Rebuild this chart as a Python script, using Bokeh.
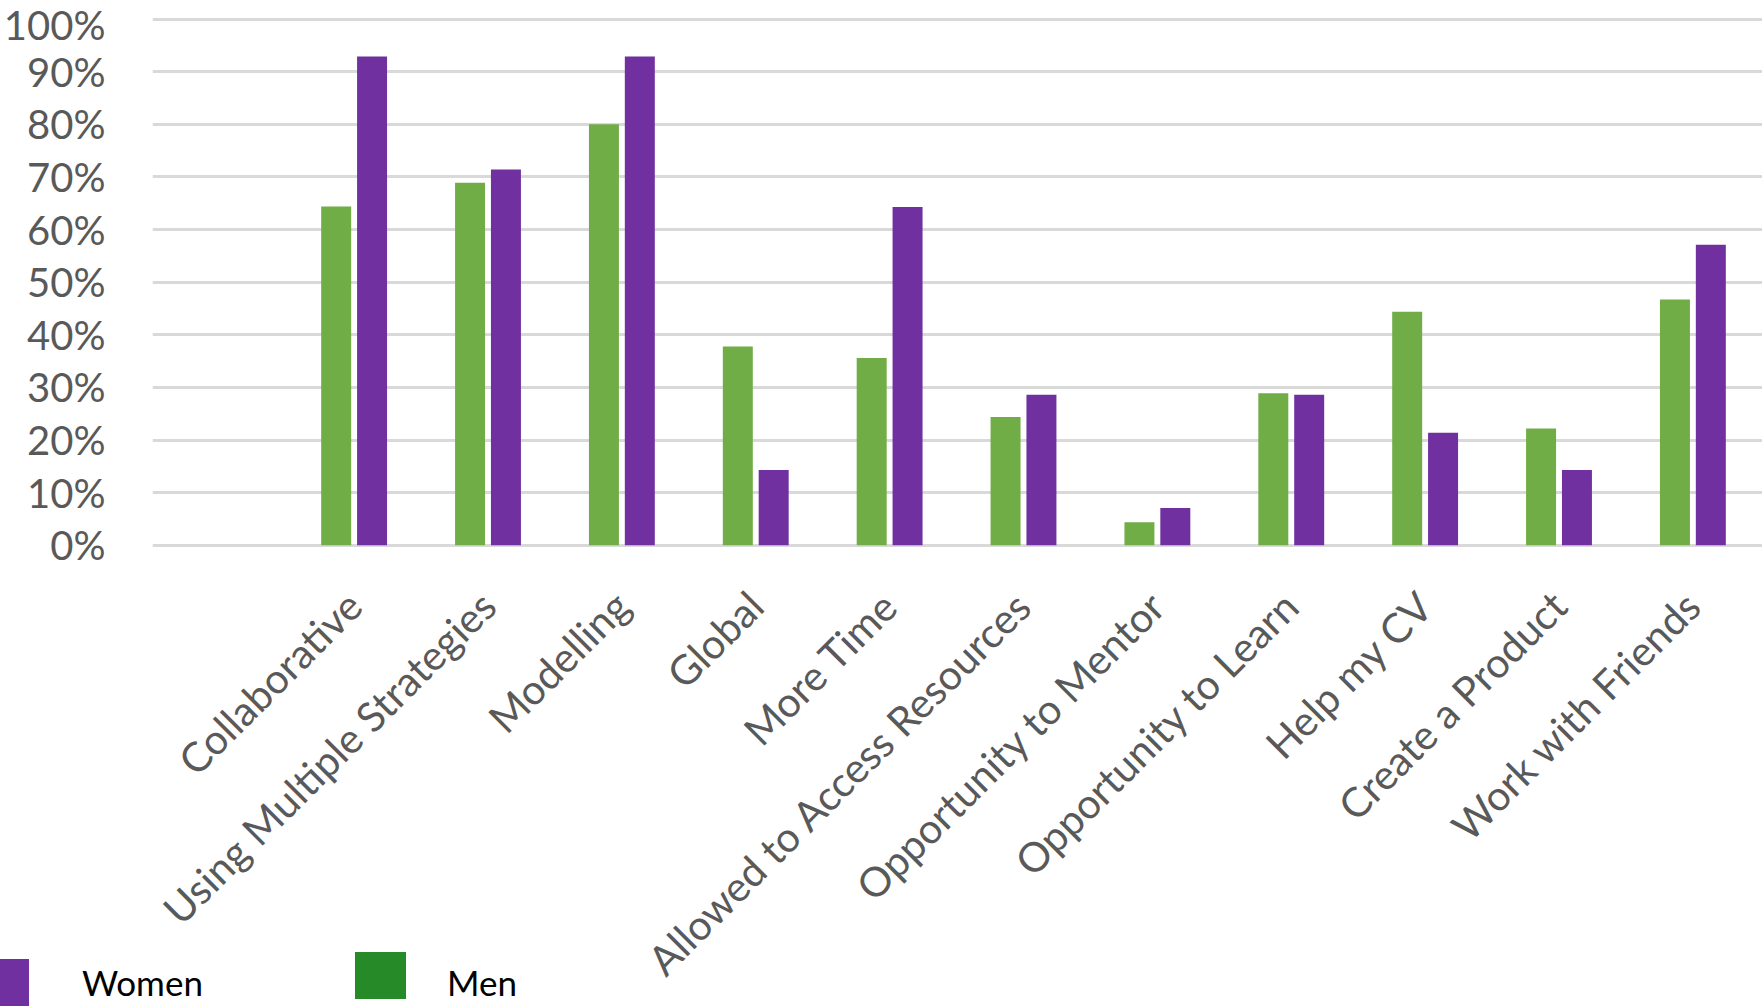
import math

from bokeh.embed import file_html
from bokeh.resources import INLINE
from bokeh.plotting import figure
from bokeh.layouts import column
from bokeh.transform import dodge
from bokeh.models import (ColumnDataSource, Range1d, FixedTicker,
                          PrintfTickFormatter, Div)

# Survey responses by gender (percent of respondents)
categories = [
    "Collaborative", "Using Multiple Strategies", "Modelling", "Global",
    "More Time", "Allowed to Access Resources", "Opportunity to Mentor",
    "Opportunity to Learn", "Help my CV", "Create a Product",
    "Work with Friends",
]
men = [64.4, 68.9, 80.0, 37.8, 35.6, 24.4, 4.4, 28.9, 44.4, 22.2, 46.7]
women = [92.9, 71.4, 92.9, 14.3, 64.3, 28.6, 7.1, 28.6, 21.4, 14.3, 57.1]
y_ticks = list(range(0, 101, 10))
series_names = ["Women", "Men"]

GREEN = "#70ad47"
PURPLE = "#7030a0"
LEGEND_GREEN = "#258a27"
AXIS_GREY = "#595959"
GRID_GREY = "#d9d9d9"

pos = list(range(len(categories)))
src = ColumnDataSource(dict(pos=pos, men=men, women=women))

W, H = 1762, 1006
LEG_H = 60
p = figure(width=W, height=H, output_backend="svg", toolbar_location=None,
           x_range=Range1d(-1.506, 10.52), y_range=Range1d(-0.6, 103.53),
           min_border_left=149, min_border_right=0, min_border_top=0,
           min_border_bottom=458, margin=0)
p.outline_line_color = None
p.background_fill_color = "white"
p.border_fill_color = "white"

bar_w = 0.224
off = 0.134
p.vbar(x=dodge("pos", -off), top="men", width=bar_w, bottom=0,
       source=src, fill_color=GREEN, line_color=None)
p.vbar(x=dodge("pos", off), top="women", width=bar_w, bottom=0,
       source=src, fill_color=PURPLE, line_color=None)

# Axes
p.xaxis.ticker = FixedTicker(ticks=pos)
p.xaxis.major_label_overrides = {i: c for i, c in enumerate(categories)}
p.xaxis.major_label_orientation = math.pi / 4
p.xaxis.major_label_standoff = 44
p.xaxis.axis_line_color = None
p.xaxis.major_tick_line_color = None
p.xaxis.minor_tick_line_color = None
p.xaxis.major_label_text_font = "Lato"
p.xaxis.major_label_text_font_size = "41px"
p.xaxis.major_label_text_color = AXIS_GREY

p.yaxis.ticker = FixedTicker(ticks=y_ticks)
p.yaxis.formatter = PrintfTickFormatter(format="%d%%")
p.yaxis.axis_line_color = None
p.yaxis.major_tick_line_color = None
p.yaxis.minor_tick_line_color = None
p.yaxis.major_label_standoff = 41
p.yaxis.major_label_text_font = "Lato"
p.yaxis.major_label_text_font_size = "40px"
p.yaxis.major_label_text_color = AXIS_GREY

p.xgrid.grid_line_color = None
p.ygrid.ticker = FixedTicker(ticks=y_ticks)
p.ygrid.grid_line_color = GRID_GREY
p.ygrid.grid_line_width = 3

# Legend strip laid over the bottom-left corner of the chart
def swatch(left, top, w, h, color):
    return (f'<div style="position:absolute;left:{left}px;top:{top}px;'
            f'width:{w}px;height:{h}px;background:{color};"></div>')


def label(left, text):
    return (f'<div style="position:absolute;left:{left}px;top:19px;'
            f'font-family:Lato;font-size:35px;line-height:35px;'
            f'color:black;white-space:nowrap;">{text}</div>')


legend_html = (
    '<div style="position:relative;width:620px;height:60px;">'
    + swatch(-22, 13, 51, 48, PURPLE)
    + label(82, series_names[0])
    + swatch(355, 6, 51, 47, LEGEND_GREEN)
    + label(447, series_names[1])
    + '</div>'
)
leg = Div(text=legend_html, width=620, height=LEG_H,
          margin=(-LEG_H, 0, 0, 0))

layout = column(p, leg, spacing=0)
open("out.html", "w").write(file_html(layout, INLINE))
